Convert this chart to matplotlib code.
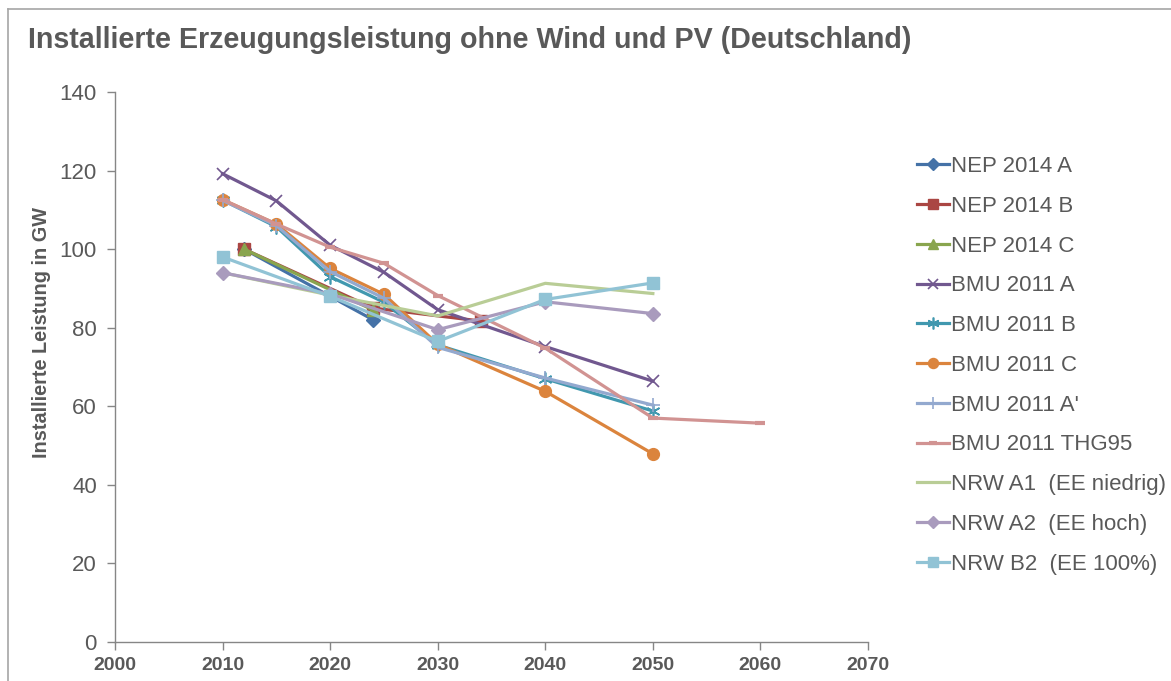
import matplotlib
matplotlib.use("Agg")
import matplotlib.pyplot as plt
from matplotlib.lines import Line2D

plt.rcParams['font.family'] = ['Liberation Sans', 'DejaVu Sans']

# ---- data ----
nep_years = [2012, 2024]
nep_a = [100, 82]
nep_b_years = [2012, 2024, 2034]
nep_b = [100, 85, 81.7]
nep_c = [100, 84.5]

bmu_years = [2010, 2015, 2020, 2025, 2030, 2040, 2050]
bmu_a = [119.2, 112.3, 101, 94.1, 84.6, 75.2, 66.4]
bmu_b = [112.5, 105.7, 93, 86.5, 75.6, 67, 58.8]
bmu_c = [112.6, 106.4, 95.1, 88.5, 75.8, 63.8, 47.9]
bmu_a2 = [112.4, 106, 94.3, 87.5, 75, 67.2, 60.3]
thg_years = [2010, 2015, 2020, 2025, 2030, 2040, 2050, 2060]
bmu_thg95 = [112.6, 106.4, 100.5, 96.4, 88.2, 74.8, 57, 55.7]

nrw_years = [2010, 2020, 2030, 2040, 2050]
nrw_a1 = [94, 88.3, 83, 91.3, 88.7]
nrw_a2 = [94, 88.6, 79.5, 86.6, 83.6]
nrw_b2 = [98, 88, 76.5, 87.2, 91.4]

x_ticks = [2000, 2010, 2020, 2030, 2040, 2050, 2060, 2070]
y_ticks = [0, 20, 40, 60, 80, 100, 120, 140]

title = "Installierte Erzeugungsleistung ohne Wind und PV (Deutschland)"
ylabel = "Installierte Leistung in GW"

W, H = 1171, 681
fig = plt.figure(figsize=(W / 100, H / 100), dpi=100)
ax = fig.add_axes([115 / W, 1 - 642 / H, (868 - 115) / W, (642 - 92) / H])

lw = 2.3
series = [
    ("NEP 2014 A", nep_years, nep_a, "#4572A7", dict(marker="D", ms=7)),
    ("NEP 2014 B", nep_b_years, nep_b, "#AA4643", dict(marker="s", ms=8)),
    ("NEP 2014 C", nep_years, nep_c, "#89A54E", dict(marker="^", ms=9)),
    ("BMU 2011 A", bmu_years, bmu_a, "#71588F", dict(marker="x", ms=9, mew=1.2)),
    ("BMU 2011 B", bmu_years, bmu_b, "#4198AF", dict(marker=(6, 2, 0), ms=10, mew=1.2)),
    ("BMU 2011 C", bmu_years, bmu_c, "#DB843D", dict(marker="o", ms=8.5)),
    ("BMU 2011 A'", bmu_years, bmu_a2, "#93A9CF", dict(marker="+", ms=10, mew=1.2)),
    ("BMU 2011 THG95", thg_years, bmu_thg95, "#D19392", dict(marker="_", ms=7, mew=3)),
    ("NRW A1  (EE niedrig)", nrw_years, nrw_a1, "#B9CD96", dict(marker=None)),
    ("NRW A2  (EE hoch)", nrw_years, nrw_a2, "#A99BBD", dict(marker="D", ms=7)),
    ("NRW B2  (EE 100%)", nrw_years, nrw_b2, "#91C3D5", dict(marker="s", ms=9)),
]

handles = []
for label, xs, ys, col, mk in series:
    ax.plot(xs, ys, color=col, lw=lw, mfc=col, mec=col, label=label,
            solid_joinstyle="round", **mk)
    hmk = dict(mk)
    if "ms" in hmk:
        hmk["ms"] = hmk["ms"] * 0.85
    handles.append(Line2D([], [], color=col, lw=lw, mfc=col, mec=col, **hmk))

ax.set_xlim(2000, 2070)
ax.set_ylim(0, 140)
ax.set_xticks(x_ticks)
ax.set_yticks(y_ticks)
ax.set_xticklabels([str(v) for v in x_ticks], fontweight="bold", fontsize=14)
ax.set_yticklabels([str(v) for v in y_ticks], fontsize=16)

for s in ["top", "right"]:
    ax.spines[s].set_visible(False)
for s in ["left", "bottom"]:
    ax.spines[s].set_color("#868686")
    ax.spines[s].set_linewidth(1)
ax.tick_params(axis="both", direction="out", length=6, color="#868686",
               labelcolor="#595959", width=1)
ax.tick_params(axis="y", pad=7)
ax.tick_params(axis="x", pad=5)

# y label
ax.text(-73 / 753, (642 - 332) / 550, ylabel, transform=ax.transAxes,
        rotation=90, ha="center", va="center", fontsize=14.3, fontweight="bold",
        color="#595959")

# title
fig.text(28 / W, 1 - 40 / H, title, ha="left", va="center", fontsize=20.6,
         fontweight="bold", color="#595959")

# legend
leg = fig.legend(handles, [s[0] for s in series], loc="upper left",
                 bbox_to_anchor=(917 / W, 1 - 156 / H), frameon=False,
                 fontsize=16, labelspacing=0.845, handlelength=1.45,
                 handletextpad=0.1, borderaxespad=0, borderpad=0)
for t in leg.get_texts():
    t.set_color("#595959")

# chart border
fig.add_artist(Line2D([8 / W, 1.0], [1 - 8.5 / H, 1 - 8.5 / H],
                      transform=fig.transFigure, color="#A6A6A6", lw=1.2))
fig.add_artist(Line2D([8 / W, 8 / W], [0, 1 - 8.5 / H],
                      transform=fig.transFigure, color="#A6A6A6", lw=1.2))

fig.savefig("out.png", dpi=100)
